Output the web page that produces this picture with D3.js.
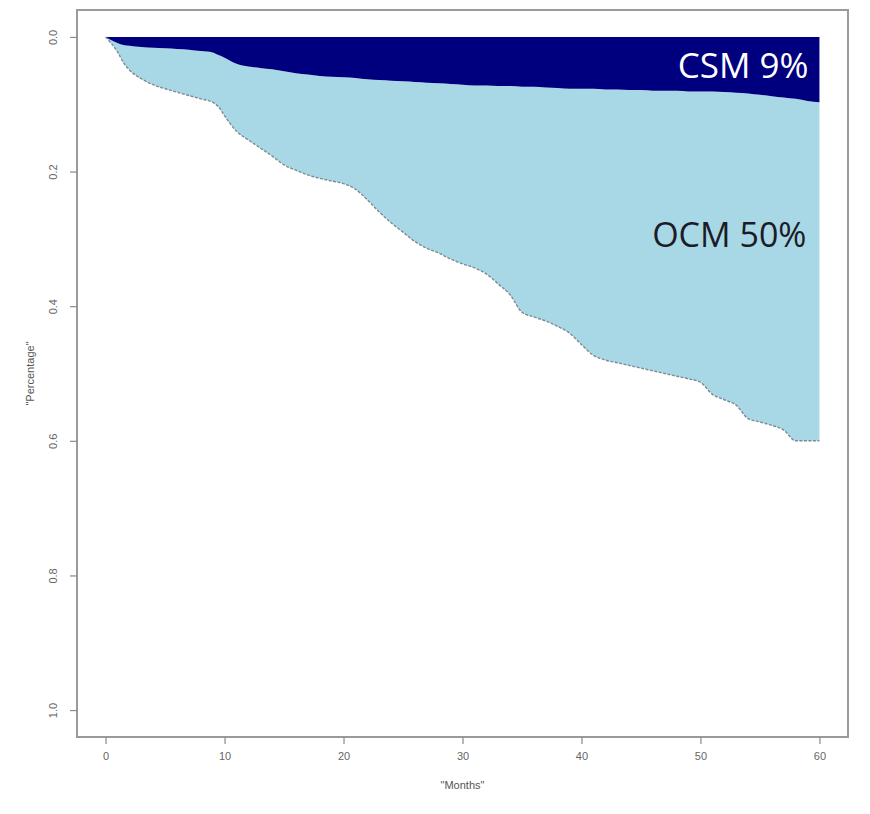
<!DOCTYPE html>
<html>
<head>
<meta charset="utf-8">
<script src="https://cdn.jsdelivr.net/npm/d3@7"></script>
<style>
  html, body { margin: 0; padding: 0; background: #fff; }
  svg { display: block; }
</style>
</head>
<body>
<svg id="chart" width="870" height="814"></svg>
<script>
// ---- Data ----
const months = [0, 0.5, 1, 1.5, 2, 3, 4, 5, 6, 7, 8, 9, 9.5, 10, 11, 12, 13, 14, 15, 16, 17, 18, 19, 20,
  21, 22, 23, 24, 25, 26, 27, 28, 29, 30, 31, 32, 33, 34, 35, 36, 37, 38, 39, 40,
  41, 42, 43, 44, 45, 46, 47, 48, 49, 50, 51, 52, 53, 54, 55, 56, 57, 58, 59, 60];

// cumulative cancer-specific mortality (upper dark band)
const csm = [0, 0.005, 0.009, 0.012, 0.013, 0.015, 0.016, 0.017, 0.018, 0.019, 0.021, 0.023, 0.027, 0.031, 0.040, 0.044, 0.046, 0.048, 0.051, 0.054, 0.056, 0.058, 0.059, 0.060,
  0.061, 0.063, 0.064, 0.065, 0.066, 0.067, 0.068, 0.069, 0.070, 0.071, 0.072, 0.072, 0.073, 0.073, 0.074, 0.074, 0.075, 0.076, 0.077, 0.077,
  0.077, 0.078, 0.078, 0.079, 0.079, 0.080, 0.080, 0.080, 0.081, 0.081, 0.081, 0.082, 0.083, 0.084, 0.086, 0.088, 0.090, 0.092, 0.095, 0.097];

// cumulative CSM + other-cause mortality (lower edge of light band)
const total = [0, 0.010, 0.022, 0.038, 0.049, 0.062, 0.071, 0.077, 0.082, 0.087, 0.092, 0.097, 0.104, 0.117, 0.140, 0.153, 0.165, 0.177, 0.190, 0.198, 0.205, 0.210, 0.214, 0.218,
  0.226, 0.242, 0.260, 0.276, 0.290, 0.304, 0.314, 0.321, 0.330, 0.337, 0.343, 0.352, 0.367, 0.383, 0.409, 0.416, 0.422, 0.430, 0.440, 0.457,
  0.473, 0.480, 0.484, 0.488, 0.492, 0.496, 0.500, 0.504, 0.508, 0.513, 0.531, 0.539, 0.547, 0.567, 0.572, 0.577, 0.584, 0.600, 0.600, 0.600];

const xTicks = [0, 10, 20, 30, 40, 50, 60];
const yTicks = [0.0, 0.2, 0.4, 0.6, 0.8, 1.0];
const yTickLabels = ["0.0", "0.2", "0.4", "0.6", "0.8", "1.0"];
const xTitle = "\"Months\"";
const yTitle = "\"Percentage\"";
const labels = [
  { text: "CSM 9%", month: 60, value: 0.06 },
  { text: "OCM 50%", month: 60, value: 0.31 }
];

const rows = months.map((m, i) => ({ m, csm: csm[i], total: total[i] }));

// ---- Layout ----
const box = { left: 77, right: 848, top: 10, bottom: 737 };
const svg = d3.select("#chart");

const x = d3.scaleLinear().domain([-2.4, 62.4]).range([box.left, box.right]);
const y = d3.scaleLinear().domain([-0.04, 1.04]).range([box.top, box.bottom]);

// light band (OCM)
svg.append("path")
  .datum(rows)
  .attr("fill", "#a8d8e6")
  .attr("d", d3.area().x(d => x(d.m)).y0(d => y(d.csm)).y1(d => y(d.total)).curve(d3.curveMonotoneX));

// dark band (CSM)
svg.append("path")
  .datum(rows)
  .attr("fill", "#00007f")
  .attr("d", d3.area().x(d => x(d.m)).y0(() => y(0)).y1(d => y(d.csm)).curve(d3.curveMonotoneX));

// lower boundary line
svg.append("path")
  .datum(rows)
  .attr("fill", "none")
  .attr("stroke", "#7d8c92")
  .attr("stroke-width", 1.4)
  .attr("stroke-dasharray", "3,1.5")
  .attr("d", d3.line().x(d => x(d.m)).y(d => y(d.total)).curve(d3.curveMonotoneX));

// box
svg.append("rect")
  .attr("x", box.left).attr("y", box.top)
  .attr("width", box.right - box.left).attr("height", box.bottom - box.top)
  .attr("fill", "none").attr("stroke", "#9a9a9a").attr("stroke-width", 2);

// axes
const xAxis = d3.axisBottom(x).tickValues(xTicks).tickSize(7).tickPadding(8).tickFormat(d3.format("d"));
const gx = svg.append("g").attr("transform", `translate(0,${box.bottom})`).call(xAxis);
gx.select(".domain").remove();

const yAxis = d3.axisLeft(y).tickValues(yTicks).tickSize(7).tickFormat((d, i) => yTickLabels[i]);
const gy = svg.append("g").attr("transform", `translate(${box.left},0)`).call(yAxis);
gy.select(".domain").remove();
gy.selectAll(".tick text")
  .attr("x", null).attr("dy", null)
  .attr("text-anchor", "middle")
  .attr("transform", "translate(-20,0) rotate(-90)");

svg.selectAll(".tick line").attr("stroke", "#8a8a8a").attr("stroke-width", 1.2);
svg.selectAll(".tick text")
  .attr("fill", "#666")
  .style("font-family", "'Liberation Sans', Arial, sans-serif")
  .style("font-size", "11px");

// axis titles
svg.append("text")
  .attr("x", (box.left + box.right) / 2).attr("y", 789)
  .attr("text-anchor", "middle")
  .attr("fill", "#555")
  .style("font-family", "'Liberation Sans', Arial, sans-serif")
  .style("font-size", "11px")
  .text(xTitle);

svg.append("text")
  .attr("transform", `translate(34,${(box.top + box.bottom) / 2}) rotate(-90)`)
  .attr("text-anchor", "middle")
  .attr("fill", "#555")
  .style("font-family", "'Liberation Sans', Arial, sans-serif")
  .style("font-size", "11px")
  .text(yTitle);

// in-chart labels
svg.append("text")
  .attr("x", x(labels[0].month) - 11).attr("y", y(labels[0].value) + 1)
  .attr("text-anchor", "end")
  .attr("fill", "#ffffff")
  .style("font-family", "'Open Sans', sans-serif")
  .style("font-size", "35px")
  .text(labels[0].text);

svg.append("text")
  .attr("x", x(labels[1].month) - 13).attr("y", y(labels[1].value) + 1)
  .attr("text-anchor", "end")
  .attr("fill", "#1c1c26")
  .style("font-family", "'Open Sans', sans-serif")
  .style("font-size", "34px")
  .text(labels[1].text);
</script>
</body>
</html>
